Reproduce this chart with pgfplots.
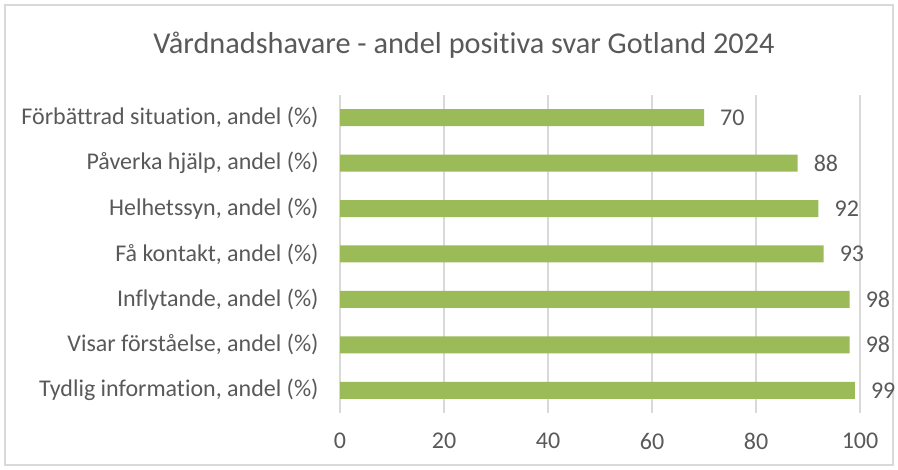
\documentclass[border=0pt]{standalone}
\usepackage{pgfplots}
\pgfplotsset{compat=1.18}
\usepackage{fontspec}
\setmainfont{Carlito}[Ligatures=NoCommon]
\definecolor{bargreen}{HTML}{9BBB59}
\definecolor{txt}{HTML}{595959}
\definecolor{gridc}{HTML}{D9D9D9}
\begin{document}
\begin{tikzpicture}[x=1bp,y=1bp]
\useasboundingbox (0,0) rectangle (898,470);
\draw[gridc, line width=1.2bp] (5,5) rectangle (893,465);
\node[text=txt, font=\fontsize{30.3bp}{34bp}\selectfont] at (464,425) {Vårdnadshavare - andel positiva svar Gotland 2024};
\begin{axis}[
  at={(340bp,57bp)}, anchor=south west,
  scale only axis, width=520bp, height=318bp,
  xbar, bar width=17bp,
  xmin=0, xmax=100, ymin=-0.5, ymax=6.5,
  xtick={0,20,40,60,80,100},
  ytick={0,1,2,3,4,5,6},
  yticklabels={{Tydlig information, andel (\%)},{Visar förståelse, andel (\%)},{Inflytande, andel (\%)},{Få kontakt, andel (\%)},{Helhetssyn, andel (\%)},{Påverka hjälp, andel (\%)},{Förbättrad situation, andel (\%)}},
  xmajorgrids, major grid style={gridc, line width=1.2bp},
  axis line style={draw=none},
  tick style={draw=none},
  /pgf/number format/assume math mode=true,
  tick label style={text=txt, font=\fontsize{24bp}{28bp}\selectfont},
  yticklabel style={inner sep=0pt, xshift=-17bp},
  xticklabel style={inner sep=0pt, yshift=-20bp},
  nodes near coords,
  nodes near coords style={text=txt, font=\fontsize{24bp}{28bp}\selectfont, anchor=west, inner sep=0pt, xshift=16bp},
]
\addplot[fill=bargreen, draw=none] coordinates {(99,0) (98,1) (98,2) (93,3) (92,4) (88,5) (70,6)};
\end{axis}
\end{tikzpicture}
\end{document}
